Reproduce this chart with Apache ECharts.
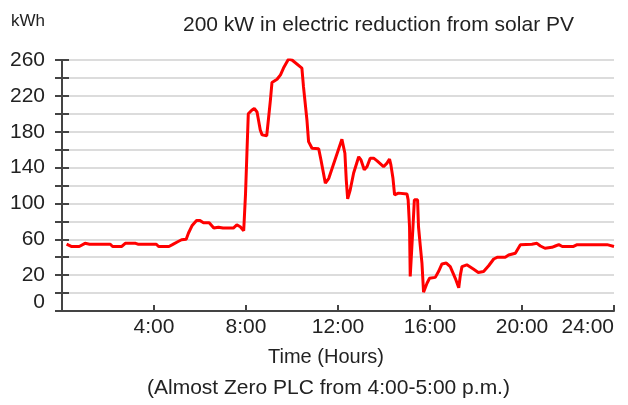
<!DOCTYPE html>
<html>
<head>
<meta charset="utf-8">
<script src="https://cdn.jsdelivr.net/npm/echarts@6/dist/echarts.min.js"></script>
<style>
	html, body { margin: 0; padding: 0; background: #fff; }
	#chart { width: 628px; height: 405px; }
</style>
</head>
<body>
<div id="chart"></div>
<script>
	// hour of day and kWh
	let hours = [
		0.2, 0.4, 0.75, 1.0, 1.2, 2.1, 2.2, 2.6, 2.75, 3.2, 3.3, 4.1, 4.2, 4.65, 4.8, 5.05, 5.2, 5.4, 5.5, 5.65,
		5.85, 6.0, 6.15, 6.4, 6.6, 6.8, 7.0, 7.45, 7.6, 7.75, 7.9, 7.97, 7.98, 8.04, 8.1, 8.25, 8.36, 8.48, 8.62, 8.7,
		8.9, 8.98, 9.06, 9.13, 9.35, 9.5, 9.63, 9.85, 10.0, 10.43, 10.5, 10.65, 10.72, 10.87, 11.16, 11.26, 11.45, 11.6, 12.17, 12.24,
		12.3, 12.36, 12.42, 12.53, 12.68, 12.9, 13.0, 13.14, 13.26, 13.4, 13.55, 13.7, 13.98, 14.13, 14.24, 14.3, 14.39, 14.46, 14.63, 15.0,
		15.05, 15.11, 15.14, 15.2, 15.26, 15.32, 15.46, 15.5, 15.58, 15.65, 15.72, 15.8, 15.87, 15.98, 16.23, 16.37, 16.52, 16.71, 16.88, 17.1,
		17.25, 17.32, 17.39, 17.6, 17.9, 18.1, 18.33, 18.55, 18.77, 18.94, 19.27, 19.42, 19.71, 19.93, 20.43, 20.65, 20.8, 21.0, 21.3, 21.45,
		21.6, 21.75, 22.24, 22.4, 23.7, 23.77, 24.0
	]
	let kwh = [
		54.5, 52, 52, 55.5, 54.5, 54.5, 52, 52, 55.5, 55.5, 54.5, 54.5, 52, 52, 54, 57.5, 59.5, 60, 67, 75,
		81, 81, 78.5, 78.5, 72.5, 73.5, 72.5, 72.5, 76, 74, 69.5, 69, 111, 156, 200, 204, 206, 202, 182, 176.5,
		175.5, 195, 215, 235, 238.5, 243.5, 251, 261, 260, 251, 230, 193, 169, 161.5, 161, 148.5, 122.5, 128, 171.5, 171,
		156, 126, 105, 115, 134, 152, 148.5, 137.5, 141, 150.5, 150.5, 147.5, 141, 145, 149.5, 143, 128, 109.5, 111.5, 110.5,
		104, 74, 18.5, 18.5, 74, 104, 104, 74, 52, 33.5, 1, 2, 11, 16.5, 17.5, 24, 32.5, 33.5, 29.5, 16.5,
		6, 20, 29.5, 31.5, 26.5, 23, 24, 30.5, 38, 40, 40, 42.5, 44.5, 54, 54.5, 55.5, 52.5, 50, 51, 52.5,
		54, 52, 52, 54, 54, 52, 52
	]
	let yLabels = [0, 20, 60, 100, 140, 180, 220, 260]
	let xLabels = ['', '4:00', '8:00', '12:00', '16:00', '20:00', '24:00']

	let font = 'Liberation Sans'
	let txt = '#222'
	let axisCol = '#444'

	let points = []
	for (let i = 0; i < hours.length; i++) {
		points[i] = [hours[i], kwh[i]]
	}

	let myChart = echarts.init(document.getElementById('chart'))
	myChart.setOption({
		animation: false,
		title: {
			text: '200 kW in electric reduction from solar PV',
			left: 178,
			top: 10,
			textStyle: {
				fontFamily: font,
				fontSize: 21,
				fontWeight: 'normal',
				color: txt
			}
		},
		graphic: [{
			type: 'text',
			left: 147,
			top: 378,
			style: {
				text: '(Almost Zero PLC from 4:00-5:00 p.m.)',
				fontFamily: font,
				fontSize: 21,
				fill: txt
			}
		}],
		grid: {
			left: 62,
			right: 14,
			top: 60,
			bottom: 94,
			outerBoundsMode: 'none'
		},
		xAxis: {
			type: 'value',
			min: 0,
			max: 24,
			interval: 4,
			name: 'Time (Hours)',
			nameLocation: 'middle',
			nameGap: 36,
			nameTextStyle: {
				fontFamily: font,
				fontSize: 20,
				color: txt,
				padding: [0, 24, 0, 0]
			},
			axisLine: {
				onZero: false,
				lineStyle: { color: axisCol, width: 2 }
			},
			axisTick: {
				inside: true,
				length: 6,
				lineStyle: { color: axisCol, width: 2 }
			},
			splitLine: { show: false },
			axisLabel: {
				margin: 6,
				alignMaxLabel: 'right',
				fontFamily: font,
				fontSize: 21,
				color: txt,
				formatter: function (v) {
					return xLabels[v / 4]
				}
			}
		},
		yAxis: [{
			type: 'value',
			min: -20,
			max: 260,
			interval: 20,
			position: 'left',
			name: 'kWh',
			nameLocation: 'end',
			nameGap: 30,
			nameTextStyle: {
				fontFamily: font,
				fontSize: 17,
				color: txt,
				align: 'right',
				padding: [0, 17, 0, 0]
			},
			axisLine: {
				lineStyle: { color: axisCol, width: 2 }
			},
			axisTick: {
				length: 7,
				lineStyle: { color: axisCol, width: 2 }
			},
			splitLine: {
				show: true,
				lineStyle: { color: '#dcdcdc', width: 2 }
			},
			axisLabel: {
				margin: 17,
				fontFamily: font,
				fontSize: 21,
				color: txt,
				formatter: function (v) {
					if (yLabels.indexOf(v) < 0) return ''
					return v === 0 ? '{low|0}' : String(v)
				},
				rich: {
					low: {
						fontFamily: font,
						fontSize: 21,
						color: txt,
						padding: [18, 0, 0, 0]
					}
				}
			}
		}, {
			type: 'value',
			min: -20,
			max: 260,
			interval: 20,
			position: 'left',
			axisLine: { show: false },
			axisLabel: { show: false },
			splitLine: { show: false },
			axisTick: {
				inside: true,
				length: 7,
				lineStyle: { color: axisCol, width: 2 }
			}
		}],
		series: [{
			name: 'kWh',
			type: 'line',
			yAxisIndex: 0,
			data: points,
			showSymbol: false,
			symbol: 'none',
			lineStyle: { color: '#ff0000', width: 3 },
			itemStyle: { color: '#ff0000' }
		}]
	})
</script>
</body>
</html>
